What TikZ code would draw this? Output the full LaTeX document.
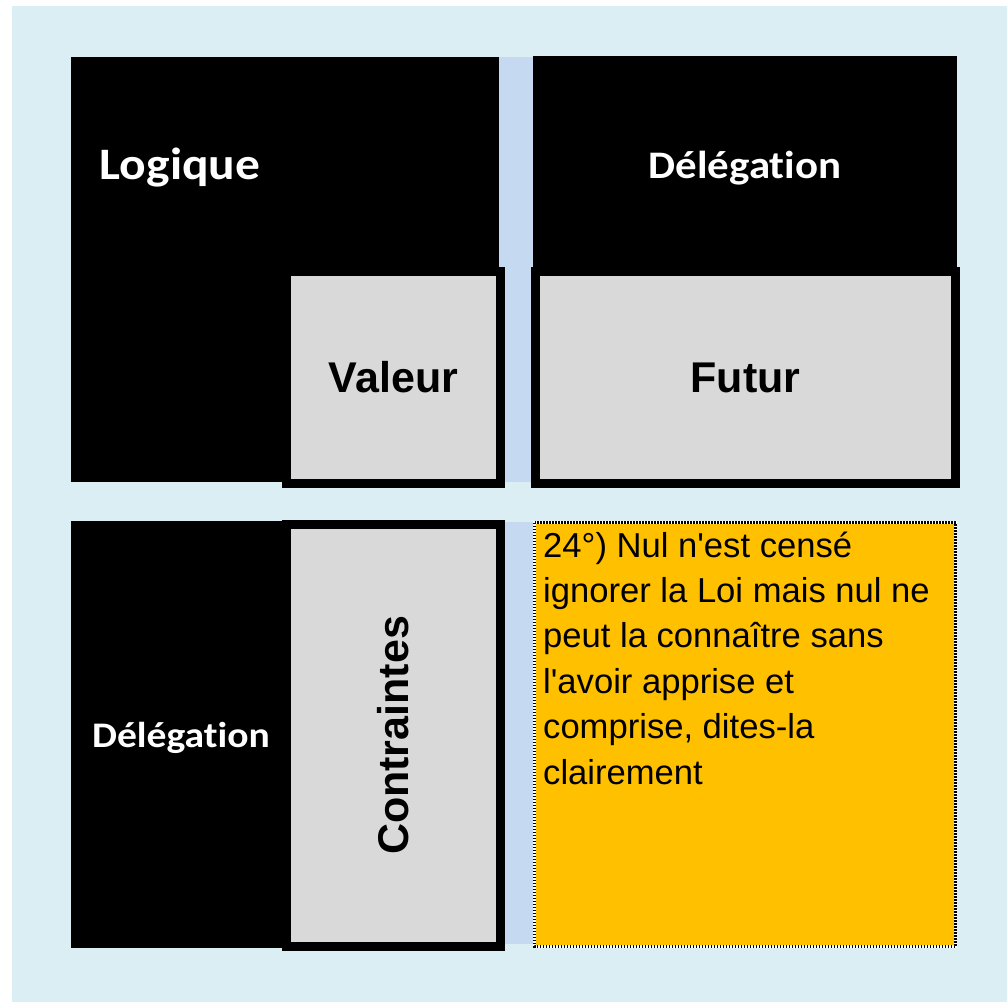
\documentclass[tikz,border=0pt]{standalone}
\usepackage{fontspec}
\setmainfont{Liberation Sans}
\newfontfamily\calib[FakeStretch=1.1,Ligatures=NoCommon]{Carlito}
\definecolor{fond}{HTML}{DAEEF3}
\definecolor{bande}{HTML}{C5D9F1}
\definecolor{gris}{HTML}{D9D9D9}
\definecolor{jaune}{HTML}{FFC000}

\begin{document}
\begin{tikzpicture}[x=1pt,y=-1pt,
  cadre/.style={draw=black, line width=9pt, fill=gris, inner sep=0pt,
    font=\bfseries\fontsize{43}{43}\selectfont},
  titre/.style={text=white, inner sep=0pt, font=\calib\bfseries}]
\useasboundingbox (0,0) rectangle (1007,1002);
\fill[white] (0,0) rectangle (1007,1002);
\fill[fond] (12,6) rectangle (1007,1002);
\fill[bande] (499,57) rectangle (533,482);
\fill[bande] (499,522) rectangle (533,944);
\fill[black] (71,57) rectangle (499,482);
\fill[black] (533,56) rectangle (957,400);
\fill[black] (71,521) rectangle (499,948);
\node[titre, font=\calib\bfseries\fontsize{45}{45}\selectfont] (logique) at (180,168) {Logique};
\node[titre, font=\calib\bfseries\fontsize{39}{39}\selectfont] (delegA) at (745,168) {Délégation};
\node[titre, font=\calib\bfseries\fontsize{36}{36}\selectfont] (delegB) at (181,738) {Délégation};
\node[cadre, minimum width=214pt, minimum height=212pt] (valeur) at (393.5,377.5) {Valeur};
\node[cadre, minimum width=420pt, minimum height=212pt] (futur) at (745.5,377.5) {Futur};
\node[cadre, minimum width=214pt, minimum height=422pt] (contr) at (393.5,735.5) {\rotatebox{90}{Contraintes}};
% case jaune
\fill[jaune] (534.5,522.5) rectangle (955.5,946.5);
\draw[white, line width=2.5pt] (534.5,522.5) rectangle (955.5,946.5);
\draw[black, line width=2.5pt, dash pattern=on 1.5pt off 1.5pt] (534.5,522.5) rectangle (955.5,946.5);
\node[anchor=base west, inner sep=0pt] (loi) at (543,557) {\parbox[t]{410pt}{\raggedright\fontsize{34.6}{45.4}\selectfont
24°) Nul n\textquotesingle est censé\\
ignorer la Loi mais nul ne\\
peut la connaître sans\\
l\textquotesingle avoir apprise et\\
comprise, dites-la\\
clairement}};
\end{tikzpicture}
\end{document}
